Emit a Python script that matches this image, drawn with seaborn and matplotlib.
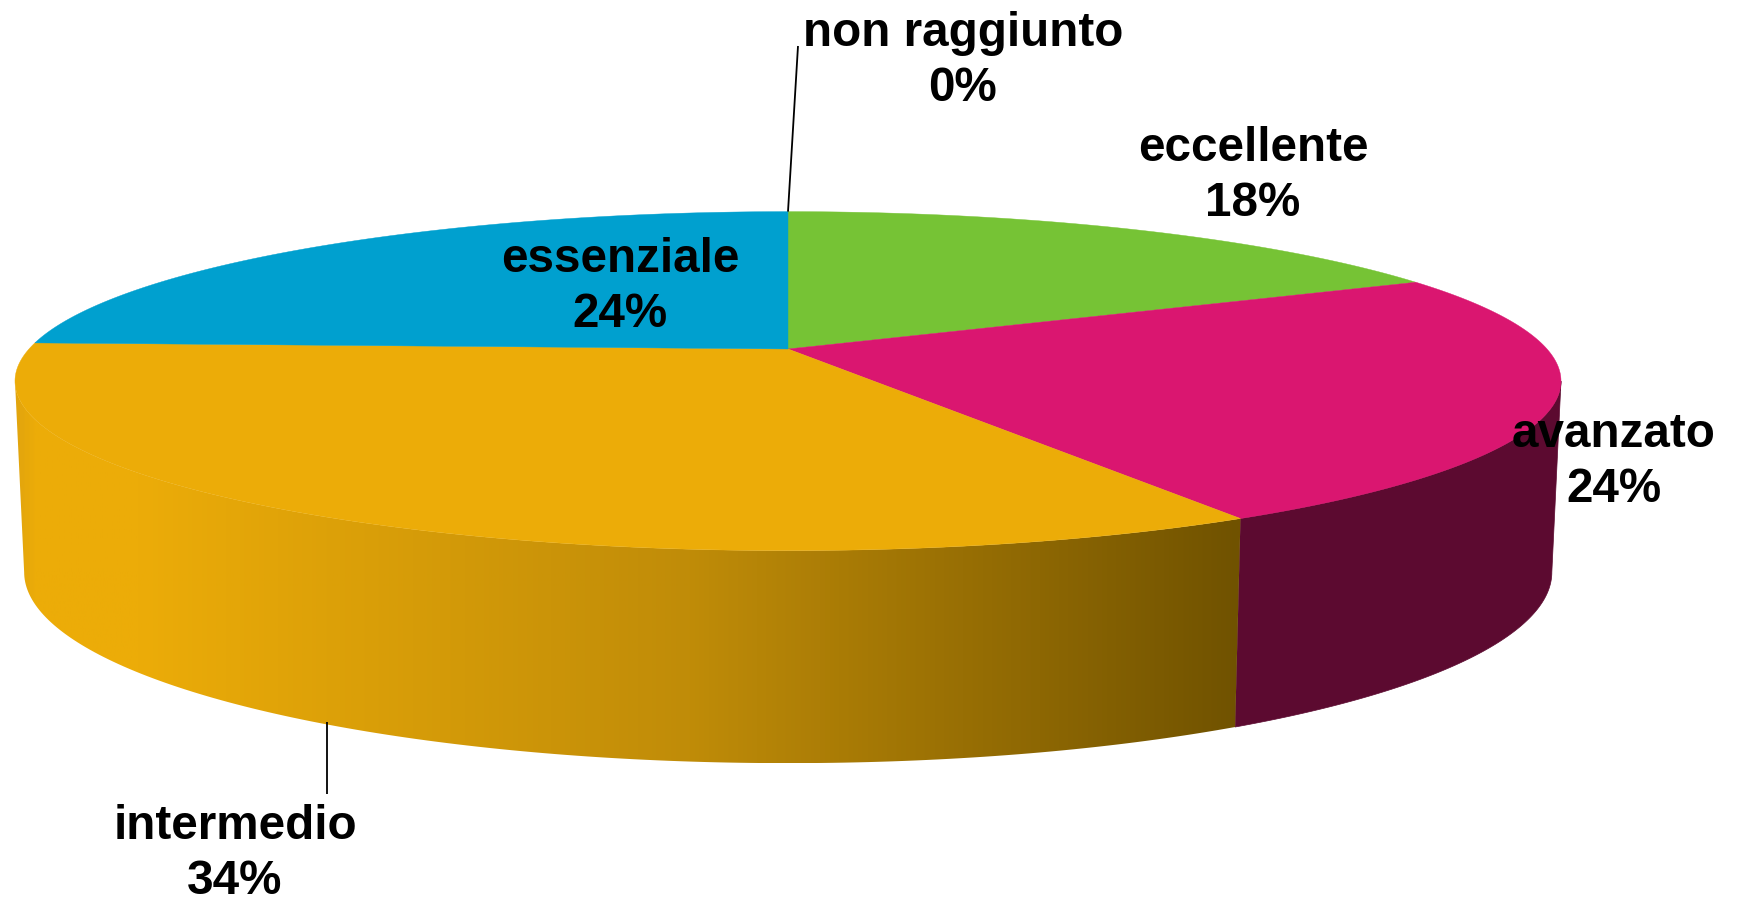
import matplotlib.pyplot as plt
import numpy as np
import seaborn as sns
from matplotlib.colors import LinearSegmentedColormap
from matplotlib.patches import Polygon

#################### DATA ####################
categories = ["eccellente", "avanzato", "intermedio", "essenziale", "non raggiunto"]
percent = [17.7, 24.0, 33.9, 24.4, 0.0]

#################### CONFIG ####################
TOP_COLORS = ["#76C335", "#DA1670", "#ECAC08", "#00A0CF", "#7030A0"]
MAROON = "#5C0A30"
GOLD_STOPS = ["#E2A50E", "#ECAC08", "#ECAC08", "#C08C08", "#705200"]

sns.set_theme(style="white")
plt.rcParams["font.family"] = ["Liberation Sans", "DejaVu Sans"]
palette = sns.color_palette(TOP_COLORS)

# perspective of the disc, in pixels of the output
TILT = 0.1895
TOP_DISC = dict(cx=788, cy=349, rx=759, ry=163.4)
BOTTOM_DISC = dict(cx=788, cy=536, rx=750, ry=184.1)
SILHOUETTE = np.degrees(np.arccos(-TILT))  # angle where the rim meets the side

LABEL_POS = {
    "eccellente": (1253, 176),
    "avanzato": (1614, 462),
    "intermedio": (235, 854),
    "essenziale": (620, 287),
    "non raggiunto": (963, 61),
}


def rim(theta, disc):
    # theta in degrees, clockwise from 12 o'clock
    t = np.radians(theta)
    scale = 1 / (1 + TILT * np.cos(t))
    return (
        disc["cx"] + disc["rx"] * np.sin(t) * scale,
        disc["cy"] - disc["ry"] * np.cos(t) * scale,
    )


def side_outline(start, stop):
    thetas = np.linspace(start, stop, 150)
    xt, yt = rim(thetas, TOP_DISC)
    xb, yb = rim(thetas[::-1], BOTTOM_DISC)
    return np.column_stack([np.r_[xt, xb], np.r_[yt, yb]])


#################### PLOT ####################
fig = plt.figure(figsize=(17.37, 9.01), dpi=100, facecolor="white")
ax = fig.add_axes([0, 0, 1, 1])

edges = np.r_[0, np.cumsum(percent)] * 3.6

# side wall, right part flat and dark
maroon_wall = side_outline(SILHOUETTE, edges[2])
ax.add_patch(Polygon(maroon_wall, closed=True, facecolor=MAROON, edgecolor=MAROON, lw=0.5))

# side wall, front part with the horizontal shading
gold_wall = side_outline(edges[2], 360 - SILHOUETTE)
wall_patch = Polygon(gold_wall, closed=True, facecolor="none", edgecolor="none")
ax.add_patch(wall_patch)
gold_cmap = LinearSegmentedColormap.from_list(
    "gold",
    [(0, GOLD_STOPS[0]), (0.015, GOLD_STOPS[1]), (0.1, GOLD_STOPS[2]), (0.55, GOLD_STOPS[3]), (1, GOLD_STOPS[4])],
)
left, right = gold_wall[:, 0].min(), gold_wall[:, 0].max()
shade = ax.imshow(
    np.linspace(0, 1, 512)[None, :],
    cmap=gold_cmap,
    extent=(left, right, gold_wall[:, 1].max(), gold_wall[:, 1].min()),
    aspect="auto",
    zorder=1,
)
shade.set_clip_path(wall_patch)

# top of the pie
for i, name in enumerate(categories):
    if percent[i] == 0:
        continue
    xs, ys = rim(np.linspace(edges[i], edges[i + 1], 200), TOP_DISC)
    xs = np.r_[TOP_DISC["cx"], xs]
    ys = np.r_[TOP_DISC["cy"], ys]
    ax.fill(xs, ys, color=palette[i], lw=0.3, zorder=2)

# leader lines
x0, y0 = rim(edges[-1], TOP_DISC)
ax.plot([x0, 798], [y0, 46], color="black", lw=1.3, zorder=3, solid_capstyle="butt")
ax.plot([327, 327], [722, 794], color="black", lw=1.3, zorder=3, solid_capstyle="butt")

for name, value in zip(categories, percent):
    ax.text(
        *LABEL_POS[name],
        f"{name}\n{value:.0f}%",
        ha="center",
        va="center",
        size=34.3,
        weight="bold",
        color="black",
        linespacing=1.27,
        zorder=4,
    )

ax.set_xlim(0, 1737)
ax.set_ylim(901, 0)
ax.axis("off")

plt.savefig("out.png", facecolor="white", dpi=100)
